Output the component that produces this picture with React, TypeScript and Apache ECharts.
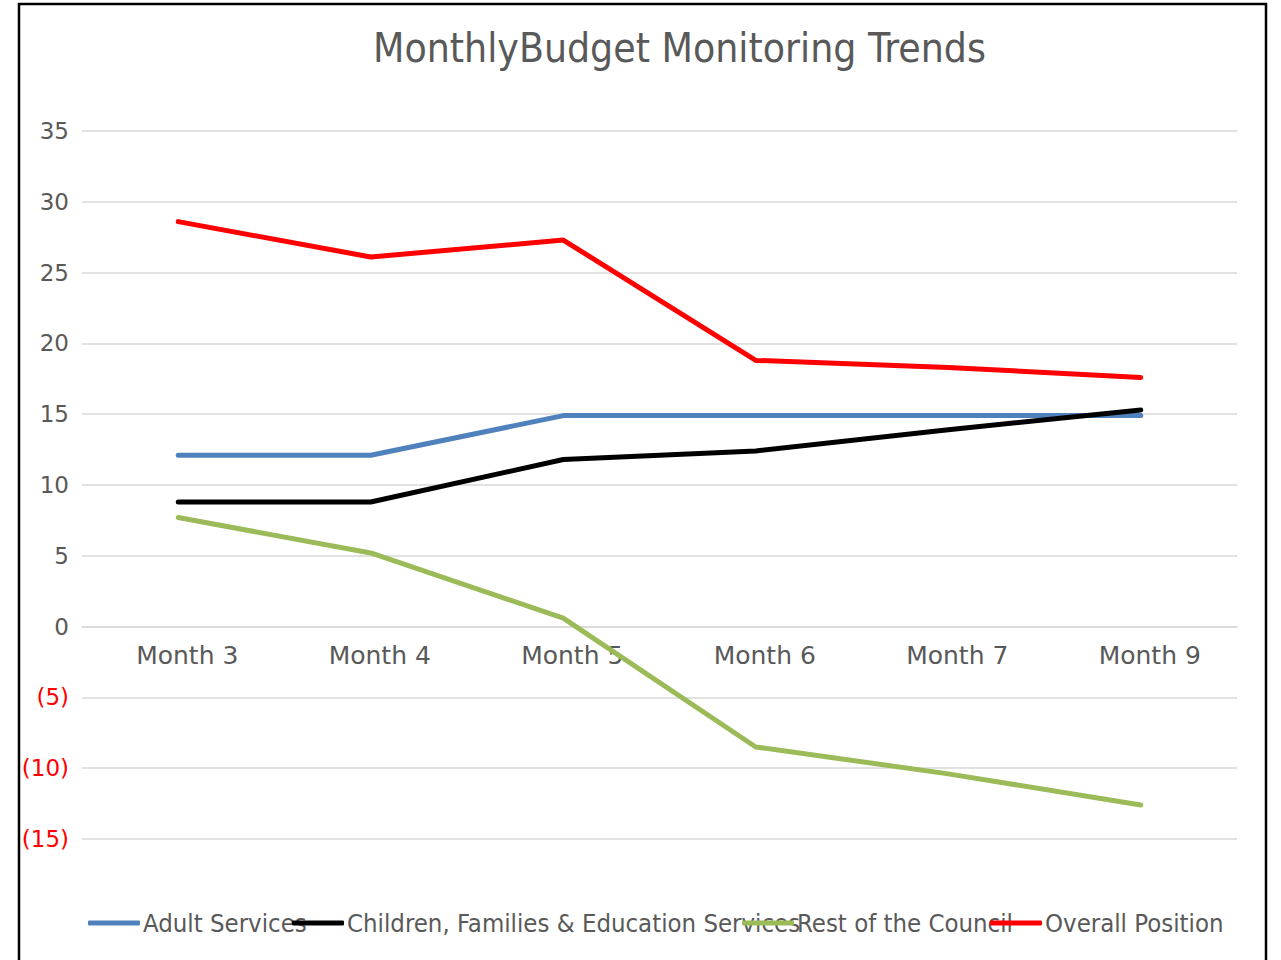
import React, { useEffect, useRef } from "react";
import * as echarts from "echarts";

const categories = ["Month 3", "Month 4", "Month 5", "Month 6", "Month 7", "Month 9"];
const adultServices = [12.1, 12.1, 14.9, 14.9, 14.9, 14.9];
const childrenServices = [8.8, 8.8, 11.8, 12.4, 13.9, 15.3];
const restOfCouncil = [7.7, 5.2, 0.6, -8.5, -10.4, -12.6];
const overallPosition = [28.6, 26.1, 27.3, 18.8, 18.3, 17.6];

const seriesNames = [
  "Adult Services",
  "Children, Families & Education Services",
  "Rest of the Council",
  "Overall Position",
];
const seriesColors = ["#4f81bd", "#000000", "#9bbb59", "#ff0000"];
const seriesData = [adultServices, childrenServices, restOfCouncil, overallPosition];
const legendLefts = [88, 292, 742, 990];

const yMin = -15;
const yMax = 35;
const gridTop = 131;
const gridBottom = 121;
const chartH = 960;

const sans = "'DejaVu Sans', sans-serif";
const condensed = "'DejaVu Sans Condensed', 'Liberation Sans Narrow', sans-serif";

export default function App() {
  const ref = useRef<HTMLDivElement>(null);
  useEffect(() => {
    if (!ref.current) return;
    const chart = echarts.init(ref.current, undefined, { renderer: "svg" });
    const plotH = chartH - gridTop - gridBottom;
    const zeroOffset = (plotH * (0 - yMin)) / (yMax - yMin);
    chart.setOption({
      animation: false,
      backgroundColor: "#ffffff",
      title: {
        text: "MonthlyBudget Monitoring Trends",
        left: 368,
        top: 22,
        textStyle: { fontFamily: condensed, fontSize: 40.5, fontWeight: "normal", color: "#595959" },
      },
      legend: seriesNames.map((n, i) => ({
        data: [n],
        left: legendLefts[i],
        top: 910,
        icon: "roundRect",
        itemWidth: 52,
        itemHeight: 5,
        itemGap: 0,
        padding: 0,
        textStyle: { fontFamily: condensed, fontSize: 25.5, color: "#595959", padding: [0, 0, 0, -2] },
      })),
      grid: { left: 82, right: 44, top: gridTop, bottom: gridBottom },
      xAxis: {
        type: "category",
        data: categories,
        boundaryGap: true,
        offset: -zeroOffset,
        axisLine: { show: true, onZero: false, lineStyle: { color: "#d9d9d9", width: 1.5 } },
        axisTick: { show: false },
        axisLabel: { color: "#595959", fontSize: 25, fontFamily: sans, margin: 16, padding: [0, 0, 0, 18] },
      },
      yAxis: {
        type: "value",
        min: yMin,
        max: yMax,
        interval: 5,
        axisLine: { show: false },
        axisTick: { show: false },
        splitLine: { lineStyle: { color: "#d9d9d9", width: 1.5 } },
        axisLabel: {
          fontSize: 23,
          fontFamily: sans,
          margin: 13,
          formatter: (v: number) => (v < 0 ? `{neg|(${Math.abs(v)})}` : `{pos|${v}}`),
          rich: {
            neg: { color: "#ff0000", fontSize: 23, fontFamily: sans },
            pos: { color: "#595959", fontSize: 23, fontFamily: sans },
          },
        },
      },
      series: seriesNames.map((n, i) => ({
        name: n,
        type: "line",
        data: seriesData[i],
        symbol: "none",
        color: seriesColors[i],
        lineStyle: { width: 5, color: seriesColors[i], cap: "round", join: "round" },
      })),
      graphic: [
        {
          type: "rect",
          shape: { x: 19, y: 4, width: 1247, height: 960 },
          style: { fill: "none", stroke: "#000000", lineWidth: 2.5 },
          silent: true,
          z: 100,
        },
      ],
    });
    return () => chart.dispose();
  }, []);
  return <div ref={ref} style={{ width: 1281, height: 960, position: "absolute", left: 0, top: 0 }} />;
}
